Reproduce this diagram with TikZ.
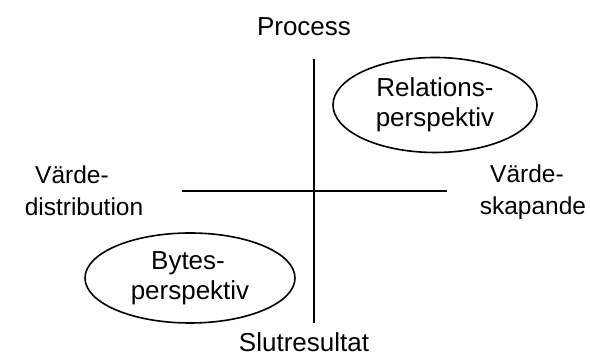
\documentclass[tikz,border=0pt]{standalone}
\usepackage{fontspec}
\setmainfont{Liberation Sans}
\usetikzlibrary{shapes.geometric}
\begin{document}
\begin{tikzpicture}[x=1pt, y=1pt,
  lbl/.style={font=\fontsize{26}{30}\selectfont, inner sep=0pt, align=center},
  side/.style={lbl, font=\fontsize{24.5}{32}\selectfont},
  oval/.style={lbl, ellipse, draw, line width=1.6pt},
  axis/.style={line width=2.6pt}]
  \useasboundingbox (0,0) rectangle (590,358);
  % axis end points
  \coordinate (top) at (314,299);
  \coordinate (bot) at (314,35);
  \coordinate (lft) at (182,167);
  \coordinate (rgt) at (447,167);
  \draw[axis] (top) -- (bot);
  \draw[axis] (lft) -- (rgt);
  % axis labels
  \node[lbl, anchor=base] (proc) at (304,322) {Process};
  \node[lbl, anchor=base] (slut) at (304,6) {Slutresultat};
  \node[side] (vdist) at (84,167) {Värde-\hspace*{24pt}\\distribution};
  \node[side] (vskap) at (533,166) {Värde-\hspace*{12pt}\\skapande};
  % perspectives
  \node[oval, minimum width=204pt, minimum height=95pt] (rel) at (435,253) {Relations-\\perspektiv};
  \node[oval, minimum width=210pt, minimum height=90pt] (byt) at (190,80) {Bytes-\hspace*{4pt}\\perspektiv};
\end{tikzpicture}
\end{document}
